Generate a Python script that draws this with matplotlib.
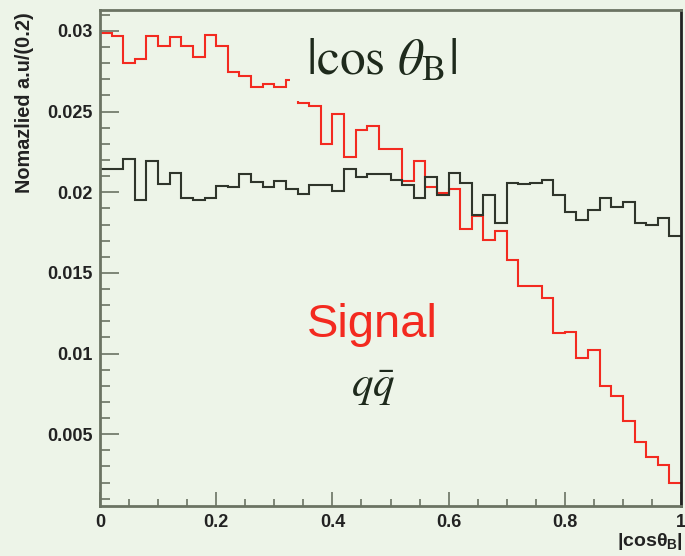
import numpy as np
import matplotlib
matplotlib.use('Agg')
import matplotlib.pyplot as plt
from matplotlib.ticker import MultipleLocator

# 50 bins of |cos theta_B| between 0 and 1
edges = np.linspace(0, 1, 51)

signal = [0.02986, 0.0297, 0.02803, 0.02824, 0.0297, 0.02907, 0.02961, 0.02905, 0.02841, 0.02977,
          0.02905, 0.02748, 0.02721, 0.02655, 0.02671, 0.02655, 0.02694, 0.02551, 0.02535, 0.0230,
          0.02485, 0.02218, 0.02386, 0.02411, 0.02266, 0.02266, 0.02071, 0.02194, 0.02032, 0.01997,
          0.02018, 0.0177, 0.01854, 0.01703, 0.0176, 0.01581, 0.01418, 0.01418, 0.01343, 0.01128,
          0.01134, 0.00973, 0.01025, 0.0080, 0.00736, 0.00583, 0.00453, 0.00356, 0.00308, 0.00195]

qqbar = [0.02144, 0.02144, 0.02208, 0.0195, 0.02194, 0.02049, 0.02121, 0.01966, 0.0195, 0.01966,
         0.0204, 0.02032, 0.02115, 0.02063, 0.02032, 0.02071, 0.02022, 0.01989, 0.02045, 0.02045,
         0.02007, 0.02146, 0.02096, 0.02111, 0.02111, 0.02074, 0.02047, 0.01966, 0.02096, 0.01981,
         0.02117, 0.02055, 0.01859, 0.01983, 0.01807, 0.02057, 0.02049, 0.02057, 0.02078, 0.01983,
         0.01879, 0.01828, 0.01891, 0.01964, 0.0191, 0.01941, 0.01807, 0.01797, 0.01843, 0.0173]

bg = '#edf4e8'
frame = '#6b7363'
red = '#f32a20'
dark = '#2f352b'

plt.rcParams['mathtext.fontset'] = 'custom'
plt.rcParams['mathtext.rm'] = 'Liberation Sans:bold'
plt.rcParams['mathtext.it'] = 'Liberation Sans:bold'
plt.rcParams['mathtext.bf'] = 'Liberation Sans:bold'

fig = plt.figure(figsize=(6.85, 5.56), dpi=100, facecolor=bg)
ax = fig.add_axes([100/685, 50/556, 581/685, 496.5/556], facecolor=bg)

ax.stairs(signal, edges, baseline=None, color=red, linewidth=1.5)
ax.stairs(qqbar, edges, baseline=None, color=dark, linewidth=1.5)

ax.set_xlim(0, 1)
ax.set_ylim(0.00055, 0.03133)

ax.xaxis.set_minor_locator(MultipleLocator(0.05))
ax.yaxis.set_minor_locator(MultipleLocator(0.001))
ax.set_xticks([0, 0.2, 0.4, 0.6, 0.8, 1.0])
ax.set_xticklabels(['0', '0.2', '0.4', '0.6', '0.8', '1'])
ax.set_yticks([0.005, 0.01, 0.015, 0.02, 0.025, 0.03])
ax.set_yticklabels(['0.005', '0.01', '0.015', '0.02', '0.025', '0.03'])

ax.tick_params(axis='x', which='major', direction='in', length=10, width=1.2, color=frame, pad=6)
ax.tick_params(axis='x', which='minor', direction='in', length=5, width=1.2, color=frame)
ax.tick_params(axis='y', which='major', direction='in', length=14, width=1.2, color=frame, pad=5)
ax.tick_params(axis='y', which='minor', direction='in', length=7, width=1.2, color=frame)
for lab in ax.get_xticklabels() + ax.get_yticklabels():
    lab.set_fontfamily('Liberation Sans')
    lab.set_fontweight('bold')
    lab.set_fontsize(13)
    lab.set_color('#222222')

for side in ['left', 'bottom', 'top']:
    ax.spines[side].set_color(frame)
    ax.spines[side].set_linewidth(2)
ax.spines['right'].set_color('#222222')
ax.spines['right'].set_linewidth(2)

fig.text(25/685, 1 - 103/556, 'Nomazlied a.u/(0.2)', rotation=90, ha='center', va='center',
         family='Liberation Sans', fontweight='bold', fontsize=14.3, color='#222222')
fig.text(683/685, 1 - 541/556, r'$|cos\theta_{B}|$', ha='right', va='center',
         fontsize=14, color='#222222')

# heading; its box hides the red line behind it, as in the original
ax.text(0.484, 0.898, r'$|\cos\,\theta_{\mathrm{B}}|$', transform=ax.transAxes, ha='center', va='center',
        fontsize=37, color='#1e2a1c', math_fontfamily='stix',
        bbox=dict(boxstyle='square,pad=0.3', facecolor=bg, edgecolor='none'))
ax.text(0.468, 0.3645, 'Signal', transform=ax.transAxes, ha='center', va='center',
        family='Liberation Sans', fontsize=34, color=red)
ax.text(0.471, 0.239, r'$q\bar{q}$', transform=ax.transAxes, ha='center', va='center',
        fontsize=31, color='#1e2a1c', math_fontfamily='stix')

fig.savefig('out.png', dpi=100, facecolor=bg)
